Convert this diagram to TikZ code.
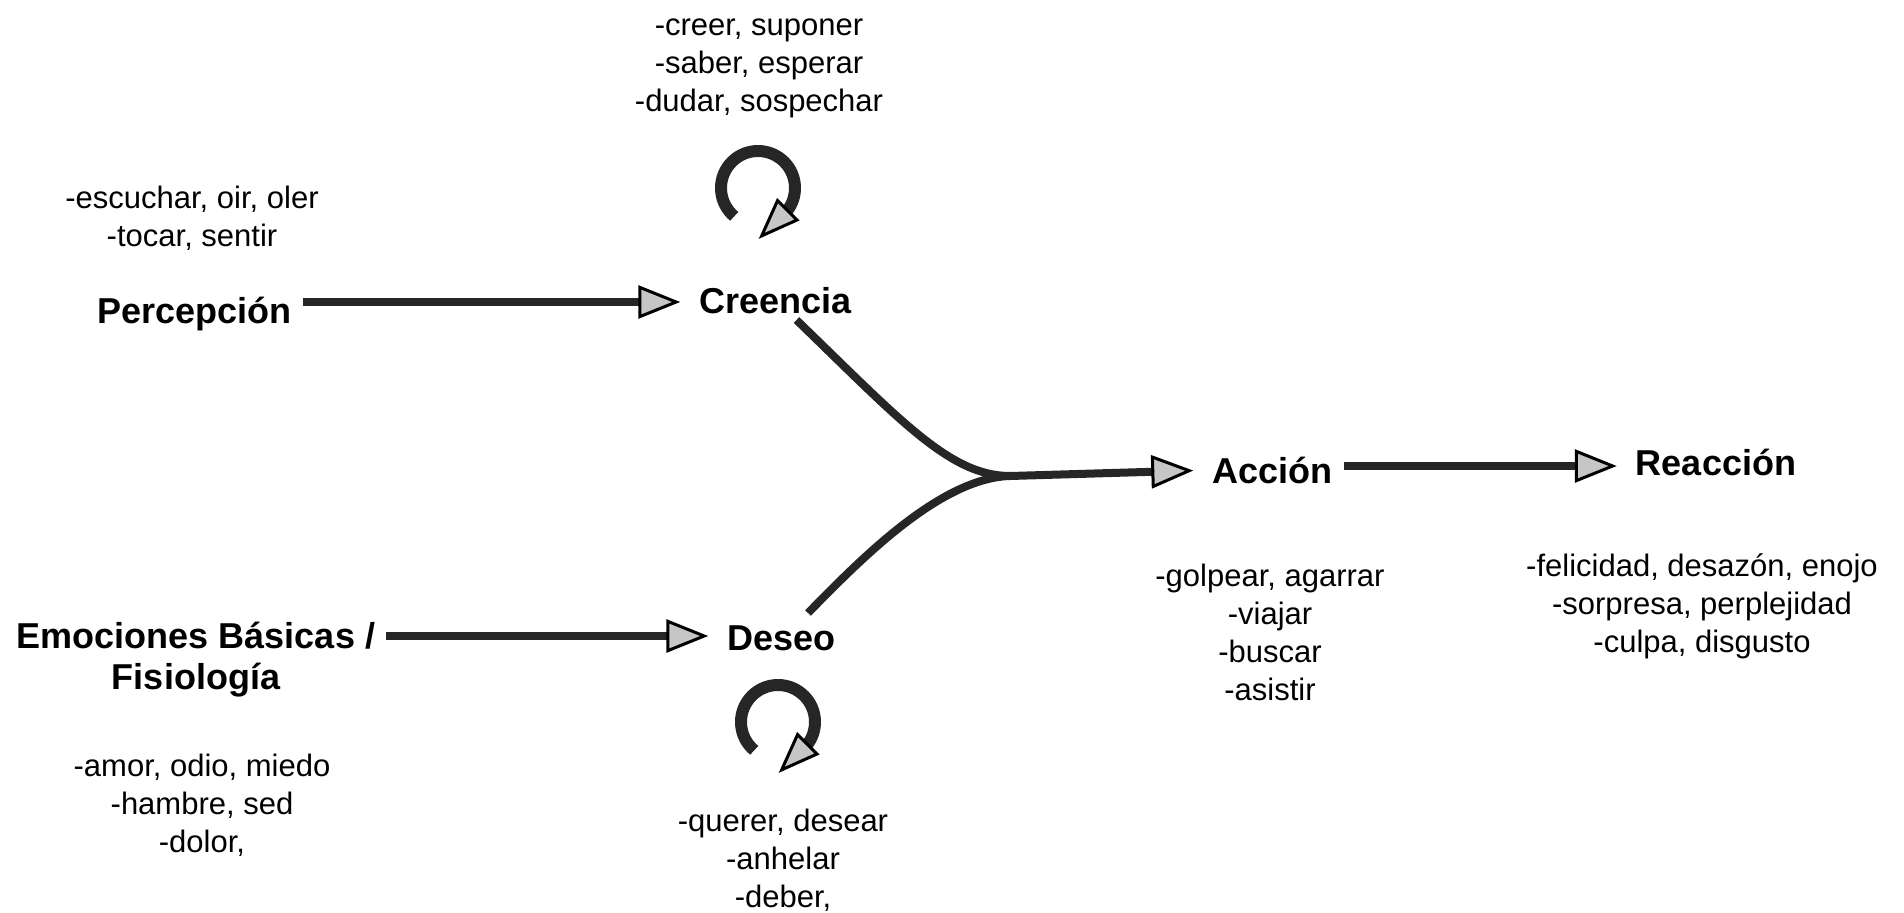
\documentclass[tikz,border=0pt]{standalone}
\usepackage{fontspec}
\setmainfont{Liberation Sans}
\usetikzlibrary{arrows.meta}
\usetikzlibrary{positioning}
\tikzset{x=1pt, y=1pt,
    etiqueta/.style={
        font=\fontsize{36}{41}\selectfont\bfseries,
        inner sep=0pt,
        align=center,
        anchor=base},
    verbos/.style={
        font=\fontsize{31}{38}\selectfont,
        inner sep=0pt,
        align=center,
        anchor=base},
    flecha/.style={
        draw=black!85,
        line width=8pt,
        -{Triangle[length=42pt,width=33pt,fill=gray!45,line width=3pt,color=black]}},
    hueco/.style={
        shorten <=11pt,
        shorten >=19pt},
    giro/.style={
        draw=black!85,
        line width=12pt,
        -{Triangle[length=42pt,width=31pt,fill=gray!45,line width=3pt,color=black]}}}

\begin{document}
\begin{tikzpicture}
    \useasboundingbox (0,0) rectangle (1904,-913);

    % estados mentales (base = ultima linea)
    \node[etiqueta] (percep) at (194.5,-323) {Percepción};
    \node[etiqueta] (creencia) at (775.5,-313) {Creencia};
    \node[etiqueta] (emoc) at (196,-689) {Emociones Básicas /\\Fisiología};
    \node[etiqueta] (deseo) at (781.5,-650) {Deseo};
    \node[etiqueta] (accion) at (1272.5,-483) {Acción};
    \node[etiqueta] (reaccion) at (1716,-475) {Reacción};

    % ejemplos
    \node[verbos] (v-creencia) at (759,-111) {-creer, suponer\\-saber, esperar\\-dudar, sospechar};
    \node[verbos] (v-percep) at (192,-246) {-escuchar, oir, oler\\-tocar, sentir};
    \node[verbos] (v-emoc) at (202,-852) {-amor, odio, miedo\\-hambre, sed\\-dolor,};
    \node[verbos] (v-deseo) at (783,-907) {-querer, desear\\-anhelar\\-deber,};
    \node[verbos] (v-accion) at (1270,-700) {-golpear, agarrar\\-viajar\\-buscar\\-asistir};
    \node[verbos] (v-reaccion) at (1702,-652) {-felicidad, desazón, enojo\\-sorpresa, perplejidad\\-culpa, disgusto};

    % puntos de entrada y salida
    \coordinate (creencia-in) at ([yshift=11pt]creencia.base west);
    \coordinate (deseo-in) at ([yshift=14pt]deseo.base west);
    \coordinate (accion-in) at ([yshift=13pt]accion.base west);
    \coordinate (reaccion-in) at ([yshift=9pt]reaccion.base west);
    \coordinate (creencia-out) at ([xshift=21pt,yshift=-7pt]creencia.base);
    \coordinate (deseo-out) at ([xshift=26.5pt,yshift=37pt]deseo.base);
    \coordinate (junta) at (1010,-476);
    \coordinate (giro-c) at (758,-188);
    \coordinate (giro-d) at (778,-722);

    \draw[flecha,hueco] (percep.east |- creencia-in) -- (creencia-in);
    \draw[flecha,hueco] (emoc.east |- deseo-in) -- (deseo-in);
    \draw[flecha,hueco] (accion.east |- reaccion-in) -- (reaccion-in);
    \draw[flecha,shorten >=19pt] (creencia-out) .. controls (900,-420) and (950,-476) .. (junta) -- (accion-in);
    \draw[draw=black!85,line width=8pt] (deseo-out) .. controls (860,-560) and (940,-478) .. (junta);

    % bucles
    \draw[giro] ([shift={(230:37)}]giro-c) arc[start angle=230, end angle=-35, radius=37] -- ++(225:42);
    \draw[giro] ([shift={(230:37)}]giro-d) arc[start angle=230, end angle=-35, radius=37] -- ++(225:42);
\end{tikzpicture}
\end{document}
